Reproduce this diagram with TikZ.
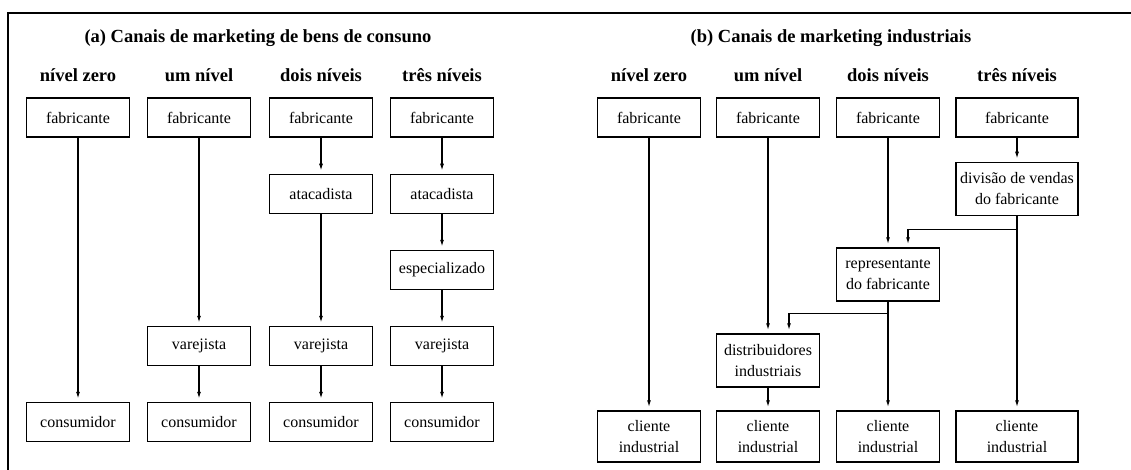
\documentclass[tikz,border=0pt]{standalone}
\usepackage{fontspec}
\setmainfont{Liberation Serif}
\usetikzlibrary{arrows.meta}

\begin{document}
\begin{tikzpicture}[
      x=1pt, y=1pt,
      every node/.style={font=\fontsize{16}{21}\selectfont},
      member/.style={draw, line width=1.5pt, minimum width=103pt, minimum height=39pt, inner sep=2pt, align=center},
      twoline/.style={member, minimum height=53pt},
      wide/.style={twoline, minimum width=122pt},
      heading/.style={font=\fontsize{18.5}{22}\selectfont\bfseries},
      flow/.style={draw, line width=1.3pt, -{Latex[length=7pt, width=4pt]}, shorten >=3pt}
    ]
    \useasboundingbox (0,0) rectangle (1131,-470);
    % Frame, top and left side only
    \draw[line width=1.8pt] (8,-470) -- (8,-13) -- (1131,-13);

    % (a) consumer goods channels
    \node[heading] (titleA) at (258,-38) {(a) Canais de marketing de bens de consuno};
    \node[heading] (headA1) at (78,-75) {nível zero};
    \node[heading] (headA2) at (199,-75) {um nível};
    \node[heading] (headA3) at (321,-75) {dois níveis};
    \node[heading] (headA4) at (442,-75) {três níveis};

    \node[member] (fabA1) at (78,-117.5) {fabricante};
    \node[member] (consA1) at (78,-422) {consumidor};

    \node[member] (fabA2) at (199,-117.5) {fabricante};
    \node[member] (varA2) at (199,-346) {varejista};
    \node[member] (consA2) at (199,-422) {consumidor};

    \node[member] (fabA3) at (321,-117.5) {fabricante};
    \node[member] (atacA3) at (321,-194) {atacadista};
    \node[member] (varA3) at (321,-346) {varejista};
    \node[member] (consA3) at (321,-422) {consumidor};

    \node[member] (fabA4) at (442,-117.5) {fabricante};
    \node[member] (atacA4) at (442,-194) {atacadista};
    \node[member] (espA4) at (442,-270) {especializado};
    \node[member] (varA4) at (442,-346) {varejista};
    \node[member] (consA4) at (442,-422) {consumidor};

    \draw[flow] (fabA1) -- (consA1);
    \draw[flow] (fabA2) -- (varA2);
    \draw[flow] (varA2) -- (consA2);
    \draw[flow] (fabA3) -- (atacA3);
    \draw[flow] (atacA3) -- (varA3);
    \draw[flow] (varA3) -- (consA3);
    \draw[flow] (fabA4) -- (atacA4);
    \draw[flow] (atacA4) -- (espA4);
    \draw[flow] (espA4) -- (varA4);
    \draw[flow] (varA4) -- (consA4);

    % (b) industrial channels
    \node[heading] (titleB) at (831,-38) {(b) Canais de marketing industriais};
    \node[heading] (headB1) at (649,-75) {nível zero};
    \node[heading] (headB2) at (768,-75) {um nível};
    \node[heading] (headB3) at (888,-75) {dois níveis};
    \node[heading] (headB4) at (1017,-75) {três níveis};

    \node[member] (fabB1) at (649,-117.5) {fabricante};
    \node[member] (fabB2) at (768,-117.5) {fabricante};
    \node[member] (fabB3) at (888,-117.5) {fabricante};
    \node[member, minimum width=122pt] (fabB4) at (1017,-117.5) {fabricante};

    \node[wide] (divB4) at (1017,-189) {divisão de vendas\\do fabricante};
    \node[twoline] (repB3) at (888,-274.5) {representante\\do fabricante};
    \node[twoline] (distB2) at (768,-360.5) {distribuidores\\industriais};

    \node[twoline, minimum height=51pt] (cliB1) at (649,-436.5) {cliente\\industrial};
    \node[twoline, minimum height=51pt] (cliB2) at (768,-436.5) {cliente\\industrial};
    \node[twoline, minimum height=51pt] (cliB3) at (888,-436.5) {cliente\\industrial};
    \node[wide, minimum height=51pt] (cliB4) at (1017,-436.5) {cliente\\industrial};

    \draw[flow] (fabB1) -- (cliB1);
    \draw[flow] (fabB2) -- (distB2);
    \draw[flow] (distB2) -- (cliB2);
    \draw[flow] (fabB3) -- (repB3);
    \draw[flow] (repB3) -- (cliB3);
    \draw[flow] (repB3.south) -- ++(0,-12) -| ([xshift=21pt]distB2.north);
    \draw[flow] (fabB4) -- (divB4);
    \draw[flow] (divB4) -- (cliB4);
    \draw[flow] (divB4.south) -- ++(0,-13) -| ([xshift=20pt]repB3.north);

\end{tikzpicture}
\end{document}
